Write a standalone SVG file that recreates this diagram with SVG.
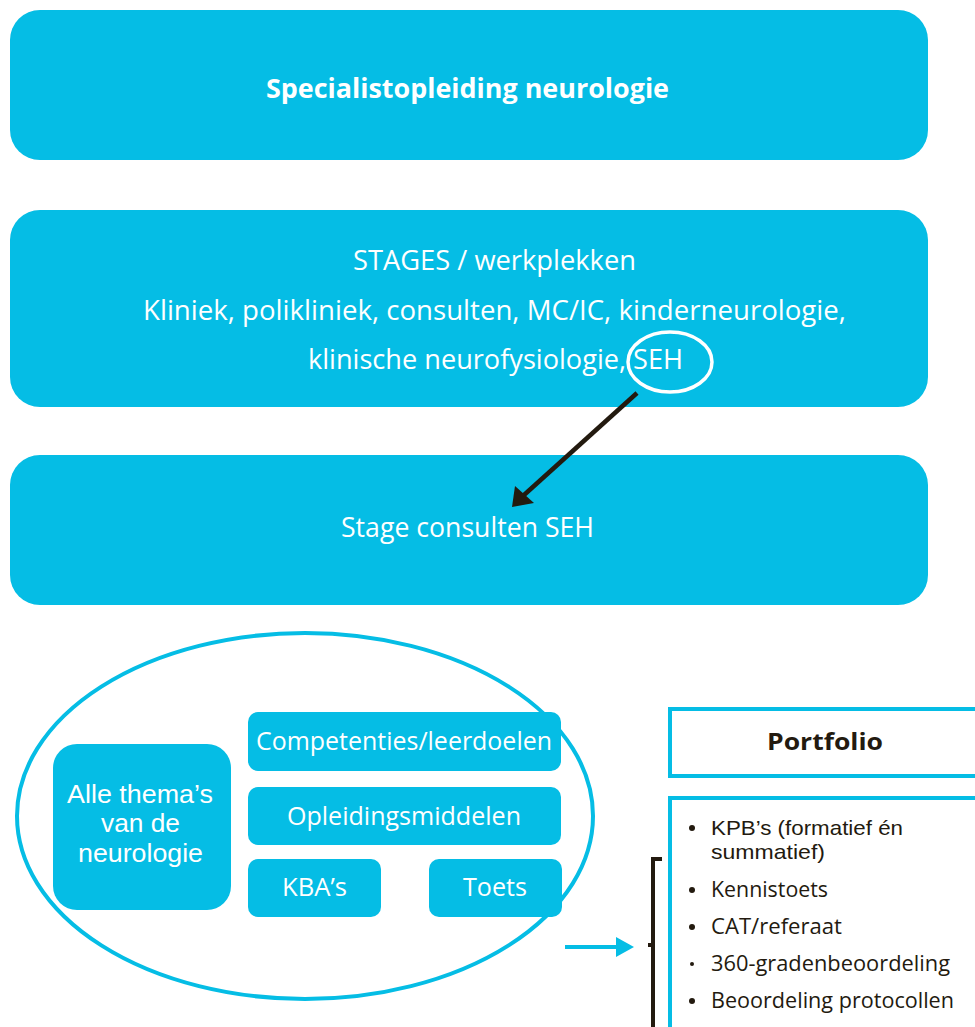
<svg xmlns="http://www.w3.org/2000/svg" width="975" height="1027" viewBox="0 0 975 1027">
<style>
.box{fill:#05bde5;}
.wt{fill:#ffffff;font-family:"Open Sans","Liberation Sans",sans-serif;text-anchor:middle;}
.wl{fill:#ffffff;font-family:"Liberation Sans","Open Sans",sans-serif;text-anchor:middle;}
.dk{fill:#231a0f;font-family:"Open Sans","Liberation Sans",sans-serif;}
.dl{fill:#231a0f;font-family:"Liberation Sans","Open Sans",sans-serif;}
</style>
<rect width="975" height="1027" fill="#ffffff"/>
<g id="node-specialistopleiding">
<rect class="box" x="10" y="10" width="918" height="150" rx="30"/>
<text class="wt" x="467.5" y="98" font-size="26" font-weight="bold" textLength="403" lengthAdjust="spacingAndGlyphs">Specialistopleiding neurologie</text>
</g>
<g id="node-stages">
<rect class="box" x="10" y="210" width="918" height="197" rx="30"/>
<text class="wt" x="494.5" y="270" font-size="27" textLength="283" lengthAdjust="spacingAndGlyphs">STAGES / werkplekken</text>
<text class="wt" x="494.5" y="320" font-size="27" textLength="703" lengthAdjust="spacingAndGlyphs">Kliniek, polikliniek, consulten, MC/IC, kinderneurologie,</text>
<text class="wt" x="495.5" y="369" font-size="27" textLength="375" lengthAdjust="spacingAndGlyphs">klinische neurofysiologie, SEH</text>
<ellipse cx="670" cy="362" rx="42" ry="30" fill="none" stroke="#ffffff" stroke-width="3.5"/>
</g>
<g id="node-stage-seh">
<rect class="box" x="10" y="455" width="918" height="150" rx="30"/>
<text class="wt" x="467.5" y="537" font-size="27" textLength="253" lengthAdjust="spacingAndGlyphs">Stage consulten SEH</text>
</g>
<g id="node-ellipse">
<ellipse cx="305" cy="816" rx="288" ry="183" fill="none" stroke="#05bde5" stroke-width="4"/>
</g>
<g id="node-themas">
<rect class="box" x="53" y="744" width="178" height="166" rx="24"/>
<text class="wl" x="140" y="803" font-size="25" textLength="146" lengthAdjust="spacingAndGlyphs">Alle thema’s</text>
<text class="wl" x="140.5" y="832" font-size="25" textLength="79" lengthAdjust="spacingAndGlyphs">van de</text>
<text class="wl" x="140.5" y="862" font-size="25" textLength="125" lengthAdjust="spacingAndGlyphs">neurologie</text>
</g>
<g id="node-competenties">
<rect class="box" x="248" y="712" width="313" height="59" rx="10"/>
<text class="wt" x="404" y="750" font-size="25" textLength="296" lengthAdjust="spacingAndGlyphs">Competenties/leerdoelen</text>
</g>
<g id="node-opleidingsmiddelen">
<rect class="box" x="248" y="787" width="313" height="58" rx="10"/>
<text class="wt" x="404" y="825" font-size="25" textLength="234" lengthAdjust="spacingAndGlyphs">Opleidingsmiddelen</text>
</g>
<g id="node-kba">
<rect class="box" x="248" y="859" width="133" height="58" rx="10"/>
<text class="wt" x="314.5" y="896" font-size="25" textLength="65" lengthAdjust="spacingAndGlyphs">KBA’s</text>
</g>
<g id="node-toets">
<rect class="box" x="429" y="859" width="133" height="58" rx="10"/>
<text class="wt" x="495" y="896" font-size="25" textLength="64" lengthAdjust="spacingAndGlyphs">Toets</text>
</g>
<g id="node-portfolio">
<rect x="670" y="709" width="320" height="67" fill="#ffffff" stroke="#05bde5" stroke-width="4"/>
<text class="dk" x="825" y="750" font-size="24" font-weight="bold" text-anchor="middle" textLength="116" lengthAdjust="spacingAndGlyphs">Portfolio</text>
</g>
<g id="node-portfolio-list">
<rect x="670" y="798" width="320" height="260" fill="#ffffff" stroke="#05bde5" stroke-width="4"/>
<g font-size="21">
<circle cx="692" cy="828" r="3" fill="#231a0f"/><text class="dl" x="711" y="835" textLength="192" lengthAdjust="spacingAndGlyphs">KPB’s (formatief én</text>
<text class="dl" x="711" y="859" textLength="114" lengthAdjust="spacingAndGlyphs">summatief)</text>
<circle cx="692" cy="890" r="3" fill="#231a0f"/><text class="dk" x="711" y="897" font-size="21.5" textLength="117" lengthAdjust="spacingAndGlyphs">Kennistoets</text>
<circle cx="692" cy="927" r="3" fill="#231a0f"/><text class="dk" x="711" y="934" font-size="21.5" textLength="131" lengthAdjust="spacingAndGlyphs">CAT/referaat</text>
<circle cx="692" cy="964" r="2" fill="#231a0f"/><text class="dk" x="711" y="971" font-size="21.5" textLength="239" lengthAdjust="spacingAndGlyphs">360-gradenbeoordeling</text>
<circle cx="692" cy="1001" r="3" fill="#231a0f"/><text class="dk" x="711" y="1008" font-size="21.5" textLength="243" lengthAdjust="spacingAndGlyphs">Beoordeling protocollen</text>
</g>
</g>
<g id="connectors">
<line x1="637" y1="393" x2="524" y2="495" stroke="#231a0f" stroke-width="4.5"/>
<path d="M512,507 L515,486 L534,503 z" fill="#231a0f"/>
<line x1="565" y1="947" x2="620" y2="947" stroke="#05bde5" stroke-width="4"/>
<path d="M616,937 L634,947 L616,957 z" fill="#05bde5"/>
<path d="M662,859 L653,859 L653,1027" fill="none" stroke="#231a0f" stroke-width="4"/>
<line x1="648" y1="945" x2="653" y2="945" stroke="#231a0f" stroke-width="4"/>
</g>
</svg>
